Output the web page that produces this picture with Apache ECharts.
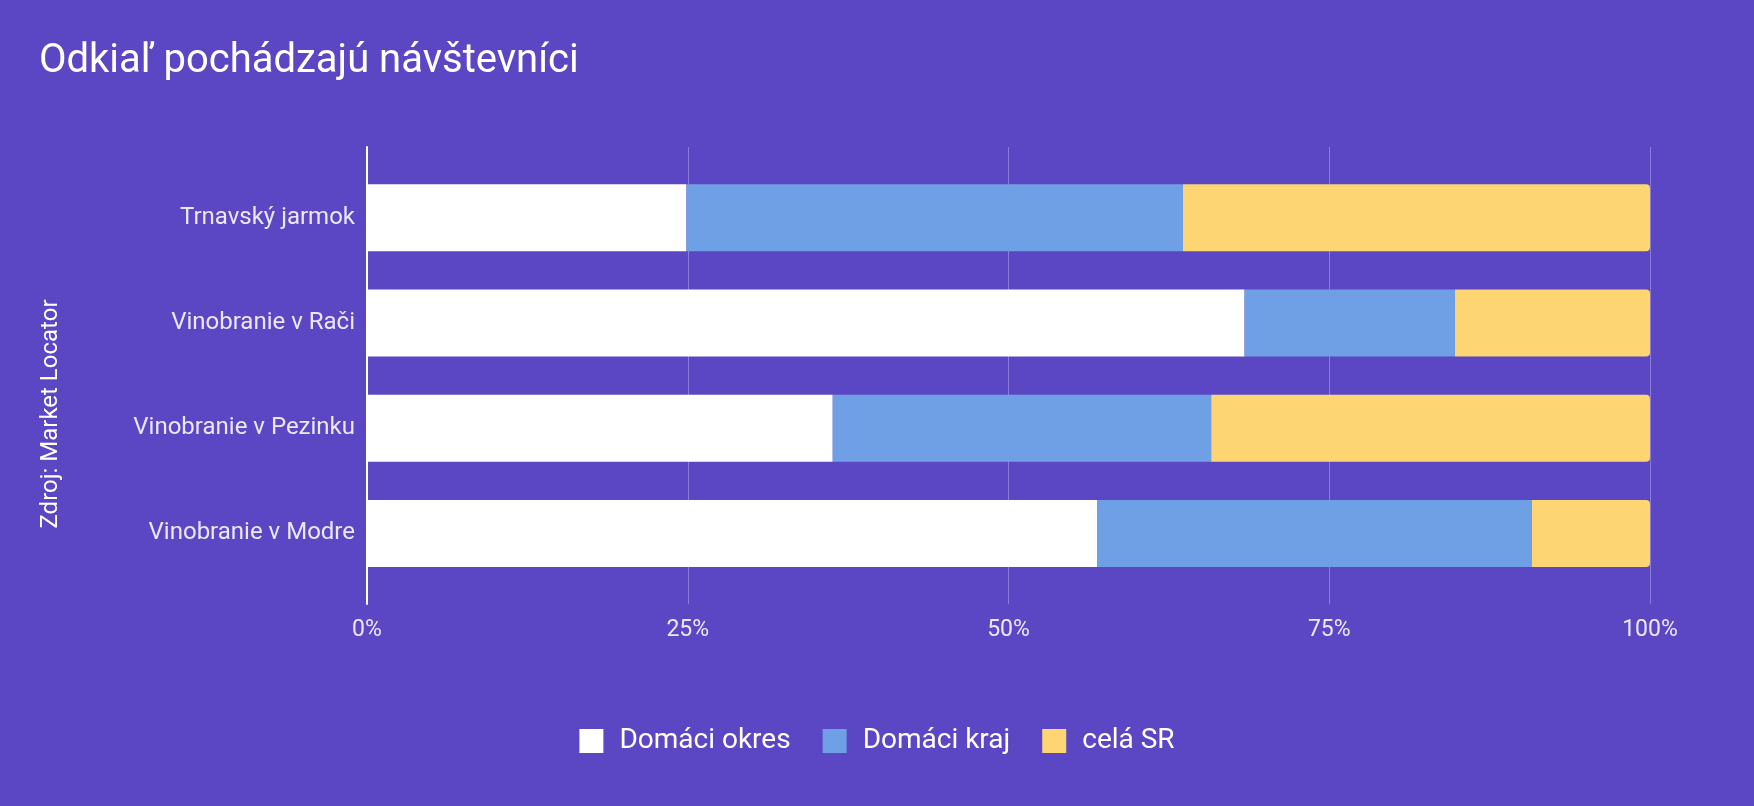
<!DOCTYPE html>
<html>
<head>
<meta charset="utf-8">
<script src="https://cdn.jsdelivr.net/npm/echarts@6/dist/echarts.min.js"></script>
<style>
html,body{margin:0;padding:0;background:#5b47c3;}
#chart{width:1754px;height:806px;}
</style>
</head>
<body>
<div id="chart"></div>
<script>
const categories = ['Trnavský jarmok', 'Vinobranie v Rači', 'Vinobranie v Pezinku', 'Vinobranie v Modre'];
const domaciOkres = [24.9, 68.4, 36.3, 56.9];
const domaciKraj = [38.7, 16.4, 29.5, 33.9];
const celaSR = [36.4, 15.2, 34.2, 9.2];
const seriesNames = ['Domáci okres', 'Domáci kraj', 'celá SR'];
const tickValues = [0, 25, 50, 75, 100];

const font = 'Roboto';
const labelColor = '#ece8fb';
const chart = echarts.init(document.getElementById('chart'));
chart.setOption({
  backgroundColor: '#5b47c3',
  textStyle: { fontFamily: font },
  title: {
    text: 'Odkiaľ pochádzajú návštevníci',
    left: 34, top: 37,
    textStyle: { color: '#ffffff', fontSize: 40, fontWeight: 'normal', fontFamily: font }
  },
  legend: {
    data: seriesNames,
    left: 'center', top: 722,
    icon: 'rect',
    itemWidth: 24, itemHeight: 24, itemGap: 32,
    itemStyle: { borderRadius: 3 },
    textStyle: { color: '#ffffff', fontSize: 28, fontFamily: font, padding: [0, 0, 0, 11] }
  },
  graphic: [{
    type: 'text', x: 51, y: 414, rotation: Math.PI / 2,
    style: { text: 'Zdroj: Market Locator', fill: '#ffffff', fontSize: 24, fontFamily: font, align: 'center', verticalAlign: 'middle' }
  }],
  grid: [
    { left: 367, right: 104, top: 165, bottom: 220 },
    { left: 367, right: 104, top: 147, bottom: 202 }
  ],
  xAxis: [
    { gridIndex: 0, type: 'value', min: 0, max: 100, show: false },
    {
      gridIndex: 1, type: 'value', min: tickValues[0], max: tickValues[tickValues.length - 1], interval: 25,
      axisLine: { show: false }, axisTick: { show: false },
      axisLabel: { formatter: '{value}%', color: labelColor, fontSize: 23, margin: 15, fontFamily: font },
      splitLine: { lineStyle: { color: '#8b7bdc', width: 1 } }
    }
  ],
  yAxis: [
    {
      gridIndex: 0, type: 'category', data: categories, inverse: true,
      axisLine: { show: false }, axisTick: { show: false }, splitLine: { show: false },
      axisLabel: { color: labelColor, fontSize: 24, margin: 12, fontFamily: font }
    },
    {
      gridIndex: 1, type: 'category', data: categories, inverse: true,
      axisLine: { show: true, lineStyle: { color: '#ffffff', width: 2 } },
      axisTick: { show: false }, axisLabel: { show: false }, splitLine: { show: false }
    }
  ],
  series: [
    { name: seriesNames[0], type: 'bar', stack: 'all', xAxisIndex: 0, yAxisIndex: 0, data: domaciOkres, barWidth: 67, itemStyle: { color: '#ffffff' } },
    { name: seriesNames[1], type: 'bar', stack: 'all', xAxisIndex: 0, yAxisIndex: 0, data: domaciKraj, barWidth: 67, itemStyle: { color: '#6fa0e6' } },
    { name: seriesNames[2], type: 'bar', stack: 'all', xAxisIndex: 0, yAxisIndex: 0, data: celaSR, barWidth: 67, itemStyle: { color: '#fdd573', borderRadius: [0, 4, 4, 0] } }
  ],
  animation: false
});
</script>
</body>
</html>
